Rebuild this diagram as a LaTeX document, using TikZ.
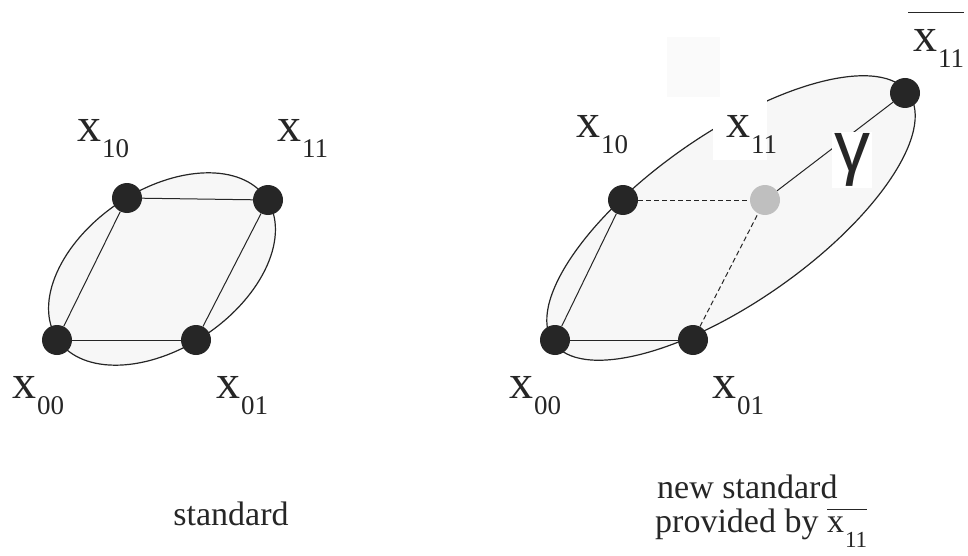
\documentclass[tikz,border=0pt]{standalone}
\usepackage{fontspec}
\setmainfont{Liberation Serif}
\newfontfamily\gamfont{Liberation Sans}
\newcommand{\xlab}[1]{x\kern1pt\raisebox{-16pt}{\fontsize{27}{27}\selectfont#1}}
\newcommand{\xcap}[1]{x\kern1pt\raisebox{-15pt}{\fontsize{23}{23}\selectfont#1}}
\newcommand{\ovr}[2]{\vbox{\hrule height 1.3pt\kern#1\hbox{#2}}}

\begin{document}
\begin{tikzpicture}[x=1pt,y=-1pt,
  vtx/.style={circle,fill=black!85,minimum size=30pt,inner sep=0pt},
  ghost/.style={circle,fill=black!25,minimum size=30pt,inner sep=0pt},
  edge/.style={line width=1pt,draw=black!85},
  dedge/.style={line width=1pt,draw=black!85,dash pattern=on 5pt off 3pt},
  blob/.style={draw=black!85,line width=1.2pt,fill=black!3},
  lab/.style={anchor=base west,inner sep=0pt,text=black!85,font=\fontsize{48}{48}\selectfont},
  captxt/.style={inner sep=0pt,text=black!85,font=\fontsize{34}{34}\selectfont}]
\useasboundingbox (0,0) rectangle (968,556);

% standard
\draw[blob,rotate around={34:(162,269)}] (162,269) ellipse [x radius=126pt,y radius=79pt];
\node[vtx] (L00) at (57,340) {};
\node[vtx] (L01) at (196,340) {};
\node[vtx] (L10) at (127,198) {};
\node[vtx] (L11) at (268,200) {};
\draw[edge] (L00) -- (L01); \draw[edge] (L10) -- (L11);
\draw[edge] (L00) -- (L10); \draw[edge] (L01) -- (L11);
\node[lab] (lL10) at (77,142) {\xlab{10}};
\node[lab] (lL11) at (277,142) {\xlab{11}};
\node[lab] (lL00) at (12,398) {\xlab{00}};
\node[lab] (lL01) at (216,398) {\xlab{01}};
\node[captxt,anchor=base] (capL) at (231,525) {standard};

% new standard
\fill[black!2] (667,37) rectangle (720,97);
\draw[blob,rotate around={35:(731,218)}] (731,218) ellipse [x radius=217pt,y radius=84pt];
\node[vtx] (R00) at (555,340) {};
\node[vtx] (R01) at (693,340) {};
\node[vtx] (R10) at (623,200) {};
\node[ghost] (Rmid) at (765,200) {};
\node[vtx] (Rbar) at (905,93) {};
\draw[edge] (R00) -- (R01); \draw[edge] (R00) -- (R10);
\draw[dedge] (R10) -- (Rmid); \draw[dedge] (R01) -- (Rmid);
\draw[edge] (Rmid) -- (Rbar);
\fill[white] (713,97) rectangle (767,160);
\node[fill=white,inner sep=2pt,text=black!85,font=\gamfont\fontsize{72}{72}\selectfont] (gam) at (852,160) {γ};
\node[lab] (lR10) at (576,138) {\xlab{10}};
\node[lab] (lR11) at (726,138) {\xlab{11}};
\node[lab] (lR00) at (509,398) {\xlab{00}};
\node[lab] (lR01) at (712,398) {\xlab{01}};
\node[lab] (lRbar) at (908,52) {\ovr{17pt}{\kern5pt\xlab{11}}};
\node[captxt,anchor=base west] (capR1) at (657,498) {new standard};
\node[captxt,anchor=base west] (capR2) at (655,532) {provided by \ovr{6pt}{\xcap{11}}};
\end{tikzpicture}
\end{document}
